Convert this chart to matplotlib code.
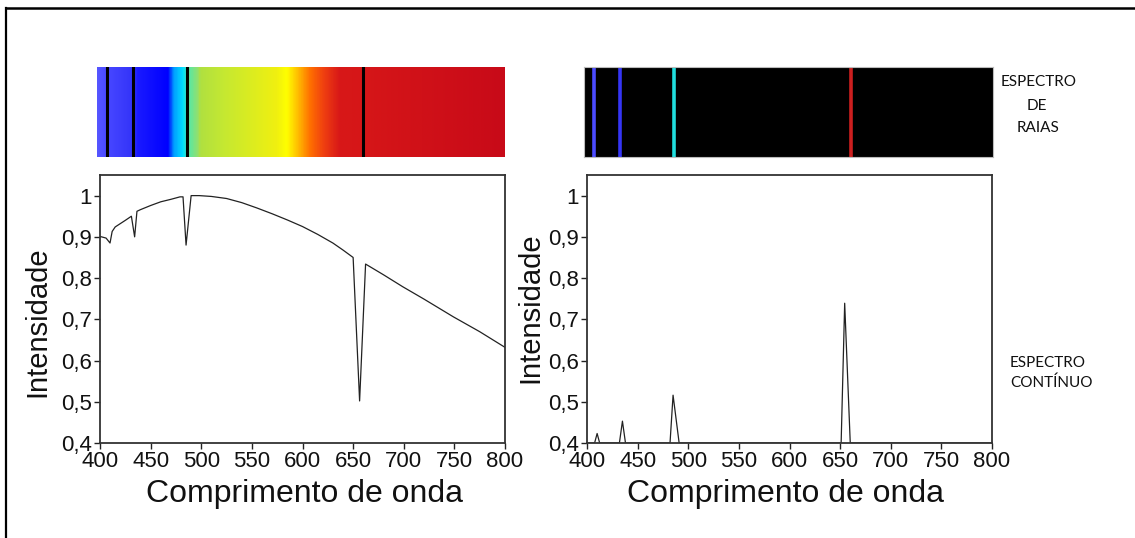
import matplotlib
matplotlib.use('Agg')
import matplotlib.pyplot as plt
import numpy as np
from matplotlib.colors import LinearSegmentedColormap, ListedColormap
from matplotlib.lines import Line2D
from matplotlib.ticker import FuncFormatter

# ---------------- data ----------------
# continuous spectrum with absorption lines (left)
wl_cont = [400, 406, 409.9, 412, 415, 420, 425, 431, 434.2, 436.5, 440, 450, 460,
           470, 479, 482, 485, 490, 498, 510, 525, 540, 555, 570, 585, 600, 615,
           630, 640, 650, 656.4, 662.3, 680, 699, 720, 749, 775, 800]
int_cont = [0.901, 0.897, 0.885, 0.913, 0.924, 0.932, 0.94, 0.95, 0.90, 0.962,
            0.966, 0.976, 0.985, 0.991, 0.997, 0.997, 0.88, 1.0, 1.0, 0.998,
            0.993, 0.983, 0.97, 0.956, 0.941, 0.925, 0.906, 0.885, 0.868, 0.85,
            0.502, 0.834, 0.808, 0.779, 0.749, 0.706, 0.67, 0.632]

# emission line spectrum (right)
wl_emis = [400, 407.5, 410, 412.5, 432, 435, 438, 482, 485, 491, 651, 654.5, 660, 800]
int_emis = [0.40, 0.40, 0.423, 0.40, 0.40, 0.453, 0.40, 0.40, 0.516, 0.40,
            0.40, 0.739, 0.40, 0.40]

# spectral line positions in the colour bars (nm)
line_wl = [410, 435, 488, 661]
line_colors = ['#4b4bff', '#3535f5', '#20dede', '#cc1f1f']

# visible gradient stops (nm, colour)
grad_nm = [400, 406, 413, 435, 439, 469, 475, 484, 489, 498, 501, 523, 576, 586,
           599, 609, 622, 638, 800]
grad_col = ['#5555ff', '#4d4dff', '#4444ff', '#3333f8', '#1a1aff', '#0000ff',
            '#00a0ff', '#00e0ff', '#55e8a8', '#90e070', '#b0e040', '#c4e832',
            '#f0f010', '#ffff00', '#ffb000', '#ff7000', '#f04010', '#d81818',
            '#c80a18']

xticks = [400, 450, 500, 550, 600, 650, 700, 750, 800]
yticks = [0.4, 0.5, 0.6, 0.7, 0.8, 0.9, 1.0]
xlabel = 'Comprimento de onda'
ylabel = 'Intensidade'

# ---------------- figure ----------------
W, H = 1135, 538
plt.rcParams['font.family'] = ['Liberation Sans', 'DejaVu Sans']
fig = plt.figure(figsize=(W / 100, H / 100), dpi=100)


def fx(px):
    return px / W


def fy(py):
    return 1 - py / H


def yfmt(v, pos):
    if abs(v - 1) < 1e-9:
        return '1'
    return f'{v:.1f}'.replace('.', ',')


# colour bars
gx = np.linspace(400, 800, 1200)
stops = [(n - 400) / 400 for n in grad_nm]
cmap = LinearSegmentedColormap.from_list('vis', list(zip(stops, grad_col)))

axb1 = fig.add_axes([fx(97), fy(157), fx(408), 90 / H])
axb1.imshow(gx[None, :], cmap=cmap, aspect='auto', extent=[400, 800, 0, 1],
            vmin=400, vmax=800)
for w in line_wl:
    axb1.axvline(w, color='black', lw=2.2)
axb1.set_xlim(400, 800)
axb1.axis('off')

axb2 = fig.add_axes([fx(584), fy(157), fx(409), 90 / H])
axb2.set_facecolor('black')
axb2.imshow(np.zeros((1, 2)), cmap=ListedColormap(['black']), aspect='auto',
            extent=[400, 800, 0, 1])
for w, c in zip(line_wl, line_colors):
    axb2.axvline(w, color=c, lw=2.6)
axb2.set_xlim(400, 800)
axb2.set_xticks([])
axb2.set_yticks([])
for s in axb2.spines.values():
    s.set_color('#bbbbbb')
    s.set_linewidth(0.8)

# plots
ax1 = fig.add_axes([fx(100), fy(443), fx(405), 268 / H])
ax2 = fig.add_axes([fx(587), fy(443), fx(405), 268 / H])
ax1.plot(wl_cont, int_cont, color='#222222', lw=0.9)
ax2.plot(wl_emis, int_emis, color='#222222', lw=0.9)

for ax, lx, ly, xlx, in [(ax1, -0.154, 0.451, 0.506), (ax2, -0.141, 0.506, 0.491)]:
    ax.set_xlim(400, 800)
    ax.set_ylim(0.4, 1.05)
    ax.set_xticks(xticks)
    ax.set_yticks(yticks)
    ax.yaxis.set_major_formatter(FuncFormatter(yfmt))
    ax.tick_params(direction='out', length=4, width=1, labelsize=16, pad=2,
                   color='#222222', labelcolor='#111111')
    for s in ax.spines.values():
        s.set_color('#333333')
        s.set_linewidth(1.3)
    ax.set_ylabel(ylabel, fontsize=21, color='#111111')
    ax.yaxis.set_label_coords(lx, ly)
    ax.yaxis.label.set_va('center')
    ax.set_xlabel(xlabel, fontsize=23, color='#111111')
    ax.xaxis.set_label_coords(xlx, -0.19)
    ax.xaxis.label.set_va('center')

# side texts
tf = ['Lato', 'DejaVu Sans']
kw = dict(va='center', fontsize=11, family=tf, color='#111111')
fig.text(fx(1039), fy(82), 'ESPECTRO', ha='center', **kw)
fig.text(fx(1037), fy(106), 'DE', ha='center', **kw)
fig.text(fx(1038), fy(128), 'RAIAS', ha='center', **kw)
fig.text(fx(1010), fy(363), 'ESPECTRO', ha='left', **kw)
fig.text(fx(1010), fy(383), 'CONTÍNUO', ha='left', **kw)

# outer frame (left and top edges)
fig.add_artist(Line2D([fx(6), fx(6)], [0, fy(8)], transform=fig.transFigure,
                      color='black', lw=1.6))
fig.add_artist(Line2D([fx(6), 1], [fy(8), fy(8)], transform=fig.transFigure,
                      color='black', lw=1.8))

fig.savefig('out.png', dpi=100)
